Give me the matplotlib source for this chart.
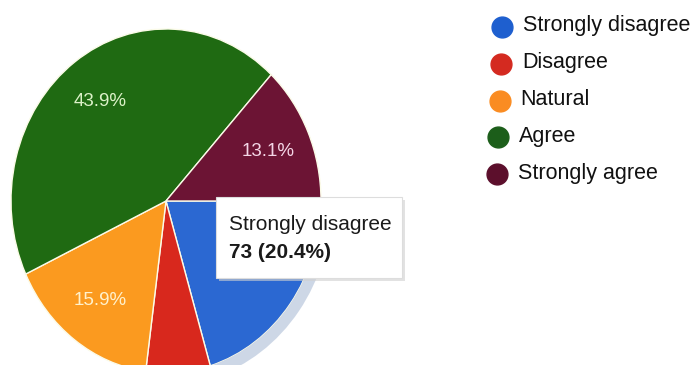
import matplotlib.pyplot as plt
from matplotlib.patches import Wedge, FancyBboxPatch

plt.rcParams['font.family'] = ['Liberation Sans', 'DejaVu Sans']

# dados da pesquisa
labels = ['Strongly disagree', 'Disagree', 'Natural', 'Agree', 'Strongly agree']
counts = [73, 24, 57, 157, 47]
colors = ['#2b68d2', '#d8281d', '#fb9a1f', '#1f6a12', '#6c1434']
legend_colors = ['#1e5fcf', '#d42a20', '#fa8c22', '#1c5e1a', '#5c0f2c']
label_colors = ['#ffffff', '#ffffff', '#fff1cc', '#dcf2c8', '#f4d6e6']
hover_index = 0

total = sum(counts)

fig = plt.figure(figsize=(6.94, 3.65), dpi=100)
W, H = 694, 365

# pizza levemente eliptica (foto em perspectiva)
cx, cy, rx, ry = 166, 201, 155, 172

ax = fig.add_axes([(cx - 1.1 * rx) / W, (H - cy - 1.1 * ry) / H,
                   2.2 * rx / W, 2.2 * ry / H])

def fmt_pct(p):
    return f'{p:.1f}%' if p > 10 else ''

wedges, texts, autotexts = ax.pie(
    counts, colors=colors, startangle=0, counterclock=False,
    autopct=fmt_pct, pctdistance=0.72,
    wedgeprops=dict(edgecolor='#fbfbe8', linewidth=1.0),
    textprops=dict(fontsize=13.5))
for t, c in zip(autotexts, label_colors):
    t.set_color(c)
# rótulo da fatia selecionada fica escondido atrás do tooltip
autotexts[hover_index].set_visible(False)

# anel de destaque da fatia selecionada
w = wedges[hover_index]
ax.add_patch(Wedge((0, 0), 1.07, w.theta1, w.theta2, width=0.07,
                   facecolor='#c8d3e4', edgecolor='none', alpha=0.9))
ax.set_xlim(-1.1, 1.1)
ax.set_ylim(-1.1, 1.1)
ax.set_aspect('auto')
ax.axis('off')

# camada de cima em pixels (tooltip + legenda)
ov = fig.add_axes([0, 0, 1, 1], zorder=5)
ov.set_xlim(0, W)
ov.set_ylim(H, 0)
ov.axis('off')
ov.patch.set_alpha(0)

# tooltip
ov.add_patch(FancyBboxPatch((219, 200), 186, 81, boxstyle='square,pad=0',
                            facecolor='#d0d0d0', edgecolor='none', alpha=0.6))
ov.add_patch(FancyBboxPatch((216, 197), 186, 81, boxstyle='square,pad=0',
                            facecolor='white', edgecolor='#dddddd', linewidth=0.8))
pct = counts[hover_index] / total * 100
ov.text(229, 224, labels[hover_index], fontsize=15, color='#1a1a1a', va='center')
ov.text(229, 252, f'{counts[hover_index]} ({pct:.1f}%)', fontsize=15,
        fontweight='bold', color='#1a1a1a', va='center')

# legenda
for i, (lab, col) in enumerate(zip(labels, legend_colors)):
    y = 27 + i * 36.8
    x = 502 - i * 1.2
    ov.plot(x, y, 'o', markersize=15, color=col)
    ov.text(x + 21, y - 1, lab, fontsize=15.5, color='#111111', va='center')

fig.savefig('out.png', dpi=100, facecolor='white')
